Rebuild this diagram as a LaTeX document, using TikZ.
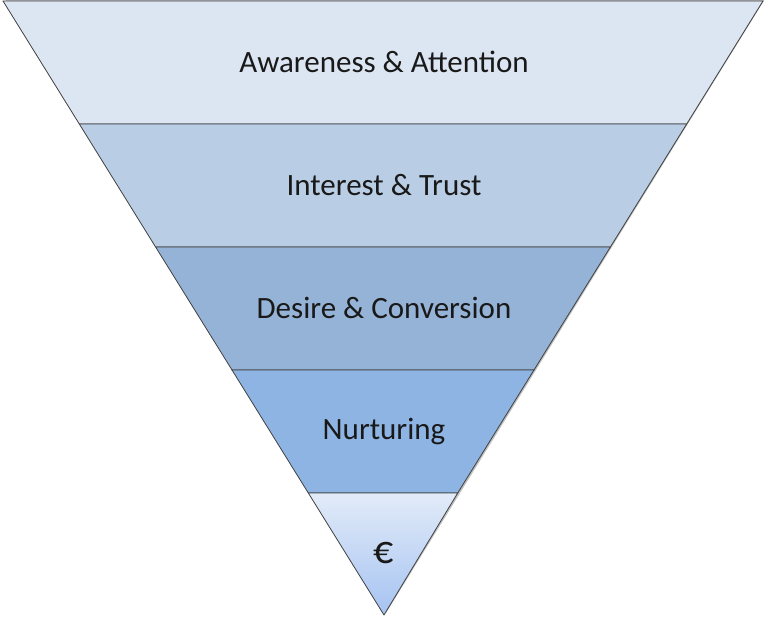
\documentclass[tikz,border=0pt]{standalone}
\usepackage{fontspec}
\setmainfont{Carlito}
\begin{document}
\begin{tikzpicture}[x=1pt,y=-1pt,
  band/.style={draw=black!75, line width=0.8pt, line join=round},
  lbl/.style={font=\fontsize{31}{34}\selectfont, text=black!90}]
\useasboundingbox (0,0) rectangle (767,620);
\definecolor{cA}{HTML}{DCE6F2}
\definecolor{cB}{HTML}{B9CDE5}
\definecolor{cC}{HTML}{95B3D7}
\definecolor{cD}{HTML}{8EB4E3}
\definecolor{cE1}{HTML}{E2EBF8}
\definecolor{cE2}{HTML}{A6C3F2}
\coordinate (TL) at (3,1);
\coordinate (TR) at (763,1);
\coordinate (L1) at (79.3,124);
\coordinate (R1) at (686.7,124);
\coordinate (L2) at (155.6,247);
\coordinate (R2) at (610.4,247);
\coordinate (L3) at (232.0,370);
\coordinate (R3) at (534.0,370);
\coordinate (L4) at (308.3,493);
\coordinate (R4) at (457.7,493);
\coordinate (AP) at (384,615);
\fill[black!25] ([xshift=2pt,yshift=2pt]TL) -- ([xshift=2pt,yshift=2pt]TR) -- ([xshift=2pt,yshift=2pt]AP) -- cycle;
\filldraw[band, fill=cA] (TL) -- (TR) -- (R1) -- (L1) -- cycle;
\filldraw[band, fill=cB] (L1) -- (R1) -- (R2) -- (L2) -- cycle;
\filldraw[band, fill=cC] (L2) -- (R2) -- (R3) -- (L3) -- cycle;
\filldraw[band, fill=cD] (L3) -- (R3) -- (R4) -- (L4) -- cycle;
\shade[top color=cE1, bottom color=cE2] (L4) -- (R4) -- (AP) -- cycle;
\draw[band] (L4) -- (R4) -- (AP) -- cycle;
\node[lbl] (t1) at (384,62) {Awareness \& Attention};
\node[lbl] (t2) at (384,185) {Interest \& Trust};
\node[lbl] (t3) at (384,308) {Desire \& Conversion};
\node[lbl] (t4) at (384,431) {Nurturing};
\node[lbl, font=\fontsize{40}{44}\selectfont] (t5) at (384,553) {€};
\end{tikzpicture}
\end{document}
